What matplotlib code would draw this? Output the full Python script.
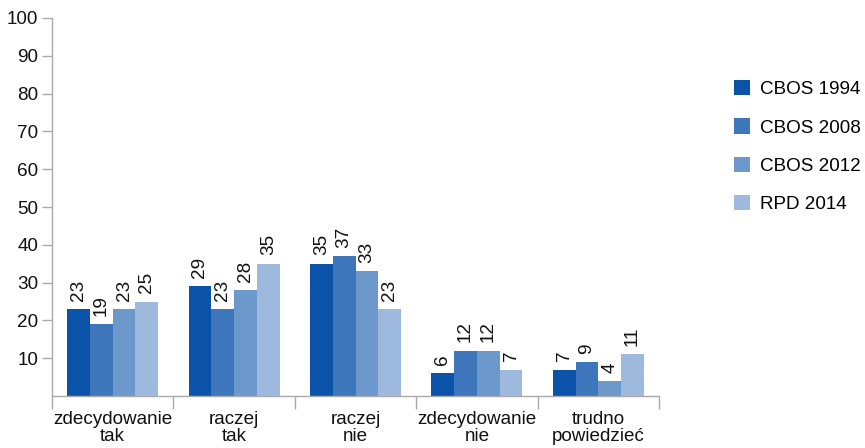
import numpy as np
import matplotlib
matplotlib.use('Agg')
import matplotlib.pyplot as plt

plt.rcParams['font.family'] = ['Liberation Sans', 'DejaVu Sans']

categories = ['zdecydowanie\ntak', 'raczej\ntak', 'raczej\nnie', 'zdecydowanie\nnie', 'trudno\npowiedzieć']
series_names = ['CBOS 1994', 'CBOS 2008', 'CBOS 2012', 'RPD 2014']
cbos_1994 = [23, 29, 35, 6, 7]
cbos_2008 = [19, 23, 37, 12, 9]
cbos_2012 = [23, 28, 33, 12, 4]
rpd_2014 = [25, 35, 23, 7, 11]
series = [cbos_1994, cbos_2008, cbos_2012, rpd_2014]
colors = ['#0b53a8', '#3d76bb', '#6c98cb', '#9dbade']

axis_col = '#aaaaaa'
fs = 13.6

fig = plt.figure(figsize=(8.65, 4.48), dpi=100)
ax = fig.add_axes([52 / 865, 1 - 396 / 448, 607 / 865, 378 / 448])

x = np.arange(len(categories))
bw = 0.75 / 4
for i, (vals, col, name) in enumerate(zip(series, colors, series_names)):
    pos = x - 0.375 + bw * (i + 0.5)
    bars = ax.bar(pos, vals, width=bw, color=col, label=name, linewidth=0)
    for b, v in zip(bars, vals):
        ax.annotate(str(v), (b.get_x() + b.get_width() / 2, v), xytext=(0, 6),
                    textcoords='offset points', rotation=90, ha='center', va='bottom',
                    fontsize=fs, color='#111111')

ax.set_xlim(-0.5, len(categories) - 0.5)
ax.set_ylim(0, 100)
ax.set_yticks(range(10, 101, 10))
ax.tick_params(axis='y', length=7, width=1, color=axis_col, labelsize=fs, pad=3, labelcolor='#111111')

ax.set_xticks(x)
ax.set_xticklabels(categories, fontsize=fs, linespacing=0.95, color='#111111')
ax.tick_params(axis='x', which='major', length=0, pad=11)
ax.set_xticks(np.arange(-0.5, len(categories)), minor=True)
ax.tick_params(axis='x', which='minor', length=9, width=1, color=axis_col)

for s in ['top', 'right']:
    ax.spines[s].set_visible(False)
for s in ['left', 'bottom']:
    ax.spines[s].set_color(axis_col)
    ax.spines[s].set_linewidth(1)

fig.legend(loc='upper left', bbox_to_anchor=(734 / 865, 1 - 80 / 448), frameon=False,
           fontsize=fs, handlelength=0.85, handleheight=0.85, handletextpad=0.5,
           labelspacing=1.08, borderpad=0, borderaxespad=0)

fig.savefig('out.png', dpi=100)
